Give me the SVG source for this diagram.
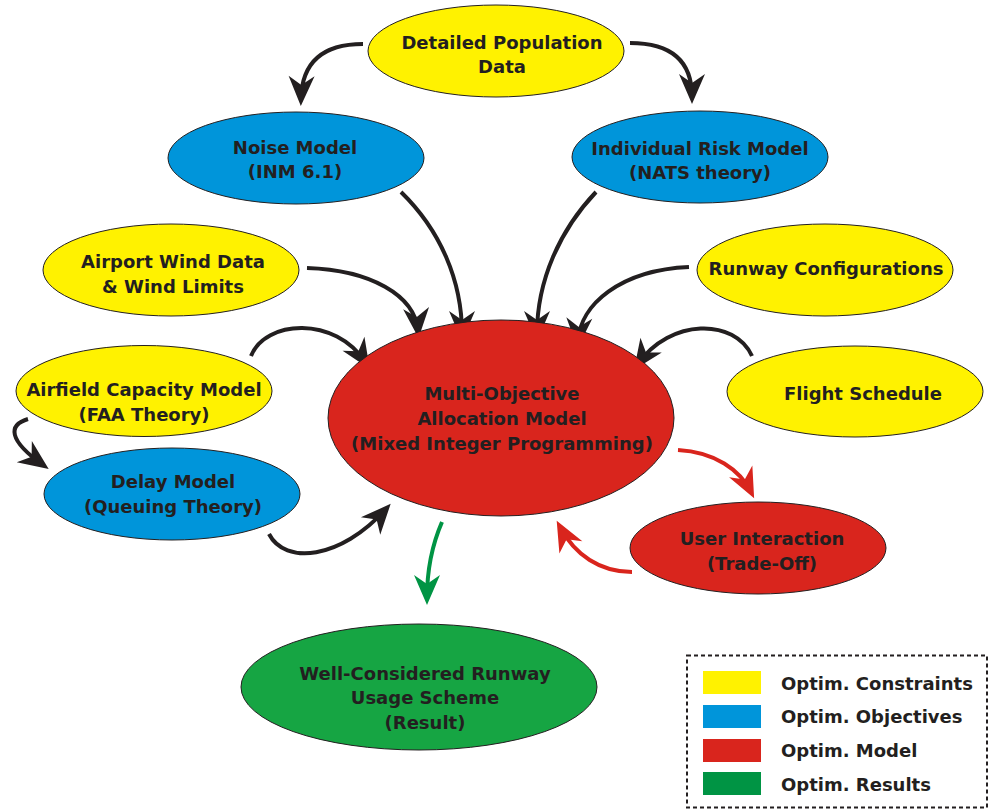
<svg xmlns="http://www.w3.org/2000/svg" width="990" height="810" viewBox="0 0 990 810">
<style>
.n{stroke:#231f20;stroke-width:1}
.y{fill:#fff200}.b{fill:#0095da}.r{fill:#d9251d}.g{fill:#16a543}
text{font-family:"DejaVu Sans","Liberation Sans",sans-serif;font-weight:bold;font-size:18px;fill:#231f20;text-anchor:middle}
.lg{text-anchor:start}
.c{fill:none;stroke-width:4}
.k{stroke:#231f20}.cr{stroke:#d9251d}.cg{stroke:#009444}
</style>
<defs>
<marker id="ak" markerUnits="userSpaceOnUse" markerWidth="30" markerHeight="26" refX="23" refY="13" orient="auto" viewBox="0 0 30 26" overflow="visible"><path d="M0,0 L30,13 L0,26 L9,13 z" fill="#231f20"/></marker>
<marker id="ar" markerUnits="userSpaceOnUse" markerWidth="30" markerHeight="26" refX="23" refY="13" orient="auto" viewBox="0 0 30 26" overflow="visible"><path d="M0,0 L30,13 L0,26 L9,13 z" fill="#d9251d"/></marker>
<marker id="ag" markerUnits="userSpaceOnUse" markerWidth="30" markerHeight="26" refX="23" refY="13" orient="auto" viewBox="0 0 30 26" overflow="visible"><path d="M0,0 L30,13 L0,26 L9,13 z" fill="#009444"/></marker>
</defs>
<rect width="990" height="810" fill="#fff"/>
<g id="connectors">
<path class="c k" marker-end="url(#ak)" d="M363,44 C325,44 302,60 301,99"/>
<path class="c k" marker-end="url(#ak)" d="M630,43 C668,43 692,58 692,97"/>
<path class="c k" marker-end="url(#ak)" d="M401,192 C440,230 462,280 462,334"/>
<path class="c k" marker-end="url(#ak)" d="M596,192 C560,230 537,280 537,334"/>
<path class="c k" marker-end="url(#ak)" d="M307,268 C370,270 415,295 418,331"/>
<path class="c k" marker-end="url(#ak)" d="M251,356 C265,320 335,315 366,363"/>
<path class="c k" marker-end="url(#ak)" d="M28,419 C8,425 8,440 43,465"/>
<path class="c k" marker-end="url(#ak)" d="M269,534 C285,565 340,560 386,509"/>
<path class="c k" marker-end="url(#ak)" d="M689,267 C620,270 580,305 578,341"/>
<path class="c k" marker-end="url(#ak)" d="M752,356 C735,318 670,318 638,364"/>
<path class="c cr" marker-end="url(#ar)" d="M678,450 C715,452 740,470 751,492"/>
<path class="c cr" marker-end="url(#ar)" d="M632,572 C600,572 575,555 560,527"/>
<path class="c cg" marker-end="url(#ag)" d="M442,522 C432,545 427,570 427,598"/>
</g>
<g id="population"><ellipse class="n y" cx="496" cy="51" rx="128" ry="46"/><text x="502" y="49">Detailed Population</text><text x="502" y="73">Data</text></g>
<g id="noise"><ellipse class="n b" cx="296" cy="158" rx="128" ry="46"/><text x="295" y="154">Noise Model</text><text x="295" y="178">(INM 6.1)</text></g>
<g id="risk"><ellipse class="n b" cx="700" cy="157" rx="128" ry="46"/><text x="700" y="155">Individual Risk Model</text><text x="700" y="179">(NATS theory)</text></g>
<g id="wind"><ellipse class="n y" cx="171" cy="270" rx="128" ry="46"/><text x="173" y="268">Airport Wind Data</text><text x="173" y="293">&amp; Wind Limits</text></g>
<g id="runway"><ellipse class="n y" cx="825" cy="270" rx="128" ry="46"/><text x="826" y="275">Runway Configurations</text></g>
<g id="capacity"><ellipse class="n y" cx="144" cy="391" rx="128" ry="45.5"/><text x="144" y="396">Airfield Capacity Model</text><text x="144" y="421">(FAA Theory)</text></g>
<g id="flight"><ellipse class="n y" cx="855" cy="391.5" rx="128" ry="45.5"/><text x="863" y="400">Flight Schedule</text></g>
<g id="delay"><ellipse class="n b" cx="172" cy="494" rx="128" ry="46"/><text x="173" y="488">Delay Model</text><text x="173" y="513">(Queuing Theory)</text></g>
<g id="model"><ellipse class="n r" cx="501" cy="418" rx="173" ry="98"/><text x="502" y="400">Multi-Objective</text><text x="502" y="425">Allocation Model</text><text x="502" y="450">(Mixed Integer Programming)</text></g>
<g id="user"><ellipse class="n r" cx="758" cy="548" rx="128" ry="46"/><text x="762" y="545">User Interaction</text><text x="762" y="570">(Trade-Off)</text></g>
<g id="result"><ellipse class="n g" cx="419" cy="687" rx="178" ry="63"/><text x="425" y="680">Well-Considered Runway</text><text x="425" y="704">Usage Scheme</text><text x="425" y="729">(Result)</text></g>
<g id="legend">
<rect x="687" y="655.5" width="300" height="152" fill="none" stroke="#231f20" stroke-width="2" stroke-dasharray="4,3"/>
<rect x="703" y="671" width="58" height="23" fill="#fff200"/>
<rect x="703" y="705" width="58" height="23" fill="#0095da"/>
<rect x="703" y="739" width="58" height="23" fill="#d9251d"/>
<rect x="703" y="772" width="58" height="23" fill="#009444"/>
<text class="lg" x="781" y="690">Optim. Constraints</text>
<text class="lg" x="781" y="723">Optim. Objectives</text>
<text class="lg" x="781" y="757">Optim. Model</text>
<text class="lg" x="781" y="791">Optim. Results</text>
</g>
</svg>
